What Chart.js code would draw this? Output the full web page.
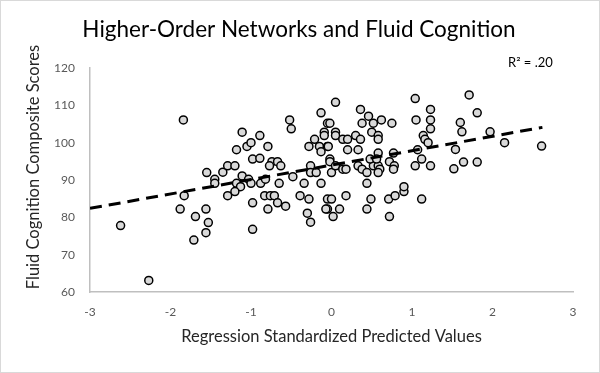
<!DOCTYPE html>
<html>
<head>
<meta charset="utf-8">
<script src="https://cdn.jsdelivr.net/npm/chart.js@4"></script>
<style>
  html, body { margin: 0; padding: 0; background: #fff; }
  canvas { display: block; }
</style>
</head>
<body>
<canvas id="chart" width="600" height="373"></canvas>
<script>
// standardized predicted values (x) and fluid cognition composite scores (y)
const predicted = [
  -1.84, -1.83, -1.88, -1.69, -1.56, -1.53, -1.56, -1.71, -2.62, -2.27,
  -1.55, -1.45, -1.45, -1.35, -1.29, -1.20, -1.11, -1.18, -1.13, -1.20,
  -1.29, -1.18, -1.11, -1.05, -1.00, -0.89, -0.79, -0.98, -0.89, -1.03,
  -1.00, -0.88, -0.82, -0.98, -0.98, -0.83, -0.76, -0.71, -0.79, -0.67,
  -0.57, -0.74, -0.77, -0.67, -0.63, -0.65, -0.52, -0.50, -0.48, -0.39,
  -0.34, -0.28, -0.30, -0.26, -0.28, -0.21, -0.15, -0.13, -0.26, -0.26,
  -0.19, -0.13, -0.13, -0.09, -0.09, -0.05, -0.05, -0.05, -0.05, 0.05,
  -0.02, 0.05, 0.05, -0.04, -0.02, -0.02, 0.00, 0.05, 0.14, 0.20,
  0.20, 0.14, 0.18, 0.33, 0.30, 0.36, 0.36, 0.38, 0.46, 0.52,
  0.62, 0.75, 0.50, 0.58, 0.58, 0.58, 0.33, 0.38, 0.44, 0.52,
  0.58, 0.60, 0.58, 0.44, 0.48, 0.56, 0.72, 0.78, 0.77, 0.77,
  0.00, -0.07, 0.10, 0.02, 0.18, 0.49, 0.44, 0.71, 0.79, 0.90,
  0.90, 0.72, 1.12, 1.04, 1.05, 1.23, 1.23, 1.23, 1.14, 1.16,
  1.20, 1.07, 1.12, 1.04, 1.23, 1.71, 1.81, 1.60, 1.62, 1.97,
  2.15, 2.61, 1.54, 1.64, 1.81, 1.52
];
const scores = [
  106.1, 85.8, 82.2, 80.2, 82.2, 78.6, 75.9, 73.9, 77.8, 63.1,
  92.0, 90.2, 89.1, 92.1, 93.8, 93.8, 91.1, 89.1, 88.2, 86.9,
  85.8, 98.1, 102.8, 99.0, 100.0, 101.9, 99.0, 95.6, 95.8, 90.2,
  89.1, 89.1, 90.2, 83.9, 76.8, 85.8, 85.8, 85.8, 82.2, 83.9,
  83.0, 94.9, 93.8, 94.9, 93.8, 89.1, 106.1, 103.7, 90.9, 85.8,
  89.1, 84.9, 81.1, 78.7, 99.0, 100.9, 99.0, 97.6, 93.8, 92.0,
  92.0, 89.1, 108.0, 102.8, 101.9, 105.2, 99.0, 82.2, 84.9, 110.8,
  105.2, 102.8, 101.9, 99.0, 95.6, 94.9, 92.0, 93.8, 100.9, 100.9,
  98.1, 92.9, 92.9, 98.1, 101.9, 100.9, 108.9, 105.2, 107.1, 105.2,
  106.1, 105.2, 102.8, 101.9, 100.9, 97.2, 93.8, 92.9, 92.0, 93.8,
  93.8, 92.9, 92.0, 89.1, 95.6, 95.6, 94.9, 93.8, 92.9, 97.2,
  84.9, 82.2, 82.2, 80.2, 85.8, 84.9, 82.2, 84.9, 85.8, 86.9,
  88.2, 80.2, 84.9, 111.8, 106.1, 108.9, 106.1, 103.7, 101.9, 100.9,
  100.0, 98.1, 95.6, 93.8, 93.8, 112.8, 108.0, 105.4, 102.9, 102.9,
  100.0, 99.1, 98.2, 94.8, 94.8, 93.0
];
// fitted regression line end points
const trendX = [-3, 2.62];
const trendY = [82.4, 104.1];
const xTicks = [-3, -2, -1, 0, 1, 2, 3];
const yTicks = [60, 70, 80, 90, 100, 110, 120];
const chartTitle = 'Higher-Order Networks and Fluid Cognition';
const rSquaredLabel = 'R\u00B2 = .20';
const yTitle = 'Fluid Cognition Composite Scores';

const fontFamily = "Lato, 'Open Sans', sans-serif";
const tickColor = '#595959';

// white background, thin border, title, R² note and the y axis title
const frame = {
  id: 'frame',
  beforeDraw(chart) {
    const ctx = chart.ctx;
    ctx.save();
    ctx.fillStyle = '#ffffff';
    ctx.fillRect(0, 0, chart.width, chart.height);
    ctx.restore();
  },
  afterDraw(chart) {
    const ctx = chart.ctx;
    ctx.save();
    ctx.strokeStyle = '#d9d9d9';
    ctx.lineWidth = 1;
    ctx.strokeRect(0.5, 0.5, chart.width - 1, chart.height - 1);

    ctx.fillStyle = '#000';
    ctx.textBaseline = 'middle';
    ctx.textAlign = 'center';
    ctx.font = `22.5px ${fontFamily}`;
    ctx.fillText(chartTitle, 299, 30);

    ctx.textAlign = 'left';
    ctx.font = `13px ${fontFamily}`;
    ctx.fillText(rSquaredLabel, 508, 63);

    ctx.translate(34, 167);
    ctx.rotate(-Math.PI / 2);
    ctx.textAlign = 'center';
    ctx.fillStyle = '#262626';
    ctx.font = `16.5px ${fontFamily}`;
    ctx.fillText(yTitle, 0, 0);
    ctx.restore();
  }
};

const points = predicted.map((x, i) => ({ x: x, y: scores[i] }));
const trend = trendX.map((x, i) => ({ x: x, y: trendY[i] }));

new Chart(document.getElementById('chart'), {
  type: 'scatter',
  data: {
    datasets: [
      {
        label: 'Scores',
        data: points,
        pointRadius: 4,
        pointBackgroundColor: '#d9d9d9',
        pointBorderColor: '#000000',
        pointBorderWidth: 1.5,
        order: 2
      },
      {
        label: 'Linear fit',
        type: 'line',
        data: trend,
        borderColor: '#000000',
        borderWidth: 3,
        borderDash: [12, 7],
        pointRadius: 0,
        fill: false,
        order: 1
      }
    ]
  },
  options: {
    responsive: false,
    animation: false,
    devicePixelRatio: 1,
    layout: { padding: { left: 0, right: 27, top: 68, bottom: 0 } },
    plugins: {
      legend: { display: false },
      tooltip: { enabled: false },
      title: { display: false }
    },
    scales: {
      x: {
        type: 'linear',
        min: -3,
        max: 3,
        afterBuildTicks: axis => { axis.ticks = xTicks.map(v => ({ value: v })); },
        grid: { display: false, drawTicks: false },
        border: { color: '#bfbfbf', width: 1.5 },
        ticks: { color: tickColor, font: { family: fontFamily, size: 12 }, padding: 13 },
        title: {
          display: true,
          text: 'Regression Standardized Predicted Values',
          color: '#262626',
          font: { family: fontFamily, size: 16.5 },
          padding: { top: 0, bottom: 26 }
        },
        afterFit: axis => { axis.height = 81; }
      },
      y: {
        type: 'linear',
        min: 60,
        max: 120,
        afterBuildTicks: axis => { axis.ticks = yTicks.map(v => ({ value: v })); },
        grid: { display: false, drawTicks: false },
        border: { color: '#bfbfbf', width: 1.5 },
        ticks: { color: tickColor, font: { family: fontFamily, size: 12 }, padding: 15 },
        afterFit: axis => { axis.width = 90; }
      }
    }
  },
  plugins: [frame]
});
</script>
</body>
</html>
